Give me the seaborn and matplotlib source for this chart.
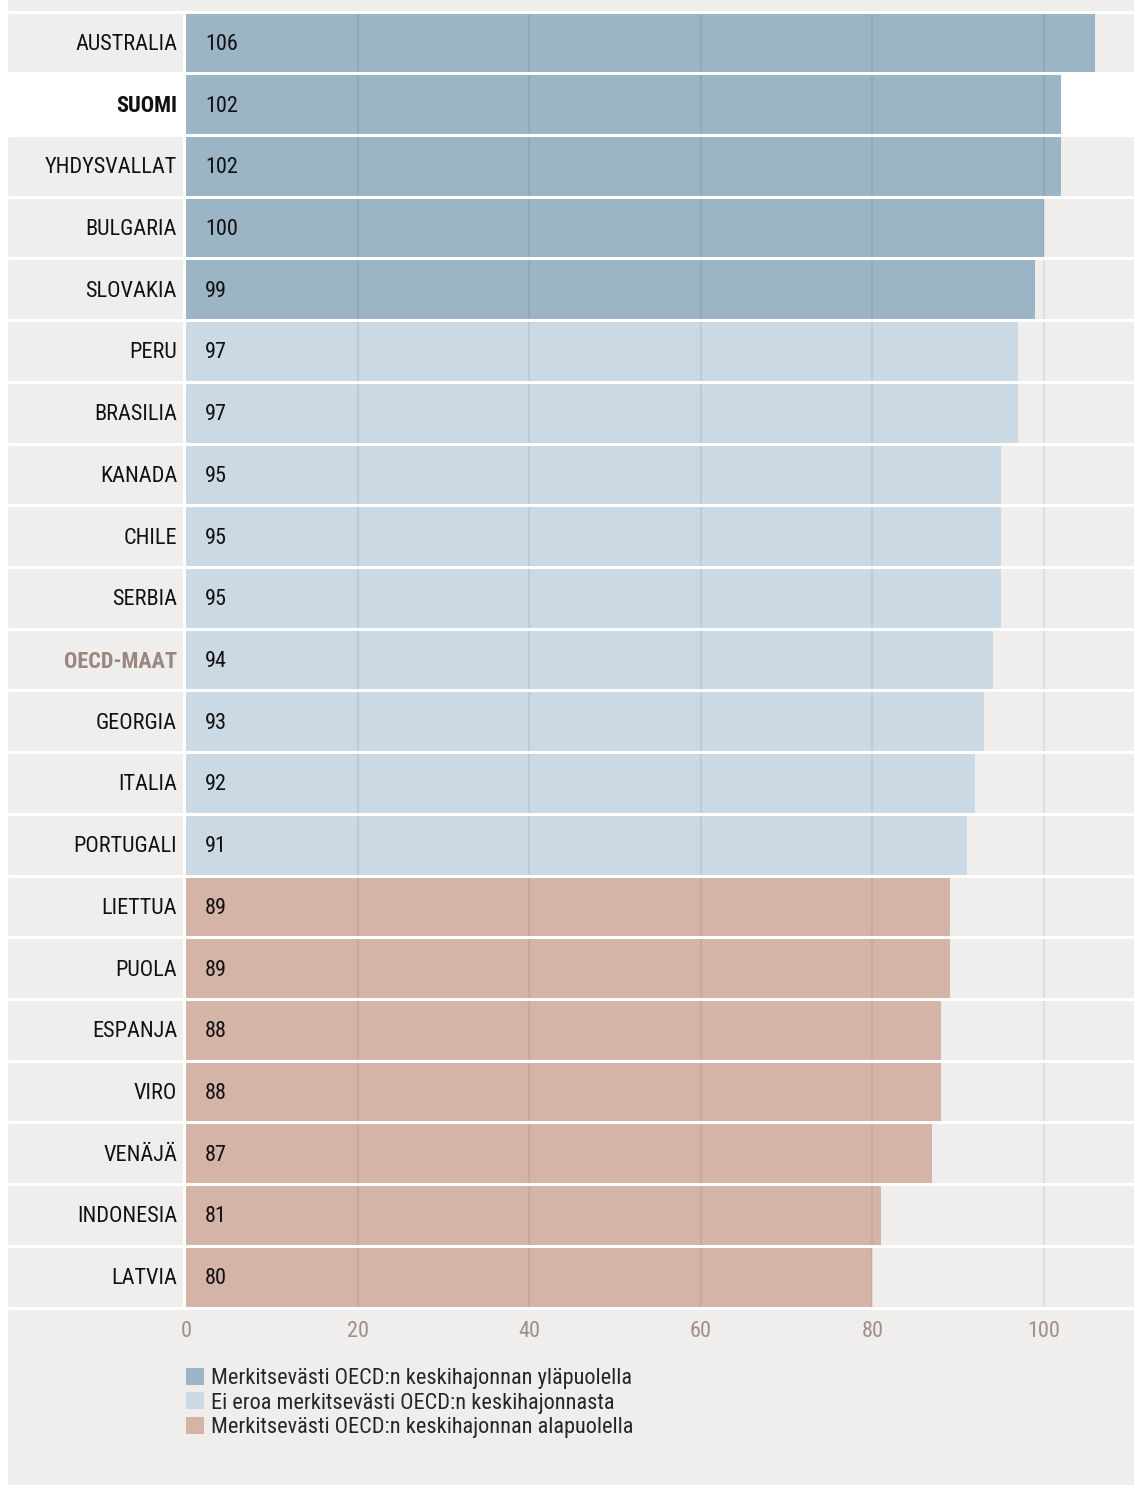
import numpy as np
import pandas as pd
import matplotlib.pyplot as plt
import seaborn as sns
from matplotlib.patches import Patch, Rectangle
from matplotlib.transforms import offset_copy

maat = ["AUSTRALIA", "SUOMI", "YHDYSVALLAT", "BULGARIA", "SLOVAKIA", "PERU",
        "BRASILIA", "KANADA", "CHILE", "SERBIA", "OECD-MAAT", "GEORGIA",
        "ITALIA", "PORTUGALI", "LIETTUA", "PUOLA", "ESPANJA", "VIRO",
        "VENÄJÄ", "INDONESIA", "LATVIA"]
arvot = [106, 102, 102, 100, 99, 97, 97, 95, 95, 95, 94, 93, 92, 91,
         89, 89, 88, 88, 87, 81, 80]
ryhmat = ["yli"] * 5 + ["sama"] * 9 + ["ali"] * 7
ryhma_nimet = {
    "yli": "Merkitsevästi OECD:n keskihajonnan yläpuolella",
    "sama": "Ei eroa merkitsevästi OECD:n keskihajonnasta",
    "ali": "Merkitsevästi OECD:n keskihajonnan alapuolella",
}
varit = {"yli": "#9bb5c7", "sama": "#cbd9e4", "ali": "#d5b4a8"}
x_ticks = [0, 20, 40, 60, 80, 100]

BG = "#f0eeec"
TICK_COL = "#a08e88"
FONT = ["Roboto Condensed", "Liberation Sans Narrow", "DejaVu Sans"]

sns.set_style("white")
plt.rcParams["font.family"] = FONT

df = pd.DataFrame({"maa": maat, "arvo": arvot, "ryhma": ryhmat})

W, H = 1134, 1485
fig = plt.figure(figsize=(W / 100, H / 100), dpi=100, facecolor="white")
# grey panel behind everything, white strip at far left
fig.patches.append(Rectangle((8 / W, 0), 1 - 8 / W, 1, transform=fig.transFigure,
                             facecolor=BG, edgecolor="none", zorder=-10))

px_per_unit = (1044 - 186) / 100
top_px, bot_px = 11.5, 1307.5
ax = fig.add_axes([0, 1 - bot_px / H, 1, (bot_px - top_px) / H])
ax.set_facecolor("none")
ax.set_zorder(1)

n = len(maat)
# SUOMI row is white
i_fi = maat.index("SUOMI")
ax.axhspan(i_fi - 0.5, i_fi + 0.5, xmin=0, xmax=1, color="white", zorder=0.5)

sns.barplot(data=df, y="maa", x="arvo", hue="ryhma", palette=varit,
            orient="h", width=1, dodge=False, saturation=1, linewidth=0,
            legend=False, ax=ax, zorder=2)

ax.set_xlim(-186 / px_per_unit, (W - 186) / px_per_unit)
ax.set_ylim(n - 0.5, -0.5)

# grid on top of bars
ax.vlines([t for t in x_ticks if t > 0], -0.5, n - 0.5, color="black",
          alpha=0.065, lw=1.5, zorder=3)
# white separators between rows
ax.hlines(np.arange(n + 1) - 0.5, (8 - 186) / px_per_unit, ax.get_xlim()[1],
          color="white", lw=2.2, zorder=4, clip_on=False)
ax.axvline(-1.6 / px_per_unit - 0.05, color="white", lw=2.2, zorder=4)

txt_tr = offset_copy(ax.transData, fig=fig, x=0, y=-2, units="dots")
for i, (m, v) in enumerate(zip(maat, arvot)):
    kw = dict(color="#111111", fontweight="normal")
    if m == "SUOMI":
        kw["fontweight"] = "bold"
    if m == "OECD-MAAT":
        kw.update(color="#9a8880", fontweight="bold")
    ax.text(-9 / px_per_unit, i, m, ha="right", va="center", fontsize=16,
            zorder=5, transform=txt_tr, **kw)
    ax.text(19 / px_per_unit, i, str(v), ha="left", va="center", fontsize=16,
            color="#111111", zorder=5, transform=txt_tr)

ax.set_xticks(x_ticks)
ax.set_xticklabels([str(t) for t in x_ticks])
ax.tick_params(axis="x", length=0, pad=10, labelsize=16, labelcolor=TICK_COL)
ax.set_yticks([])
ax.set_ylabel("")
ax.set_xlabel("")
for s in ax.spines.values():
    s.set_visible(False)

handles = [Patch(facecolor=varit[k], edgecolor="none", label=ryhma_nimet[k])
           for k in ["yli", "sama", "ali"]]
fig.legend(handles=handles, loc="upper left",
           bbox_to_anchor=(186 / W, 1 - 1368 / H), frameon=False,
           fontsize=16, handlelength=0.8, handleheight=0.8, handletextpad=0.32,
           labelspacing=0.14, borderpad=0, borderaxespad=0)

fig.savefig("out.png", dpi=100, facecolor="white")
